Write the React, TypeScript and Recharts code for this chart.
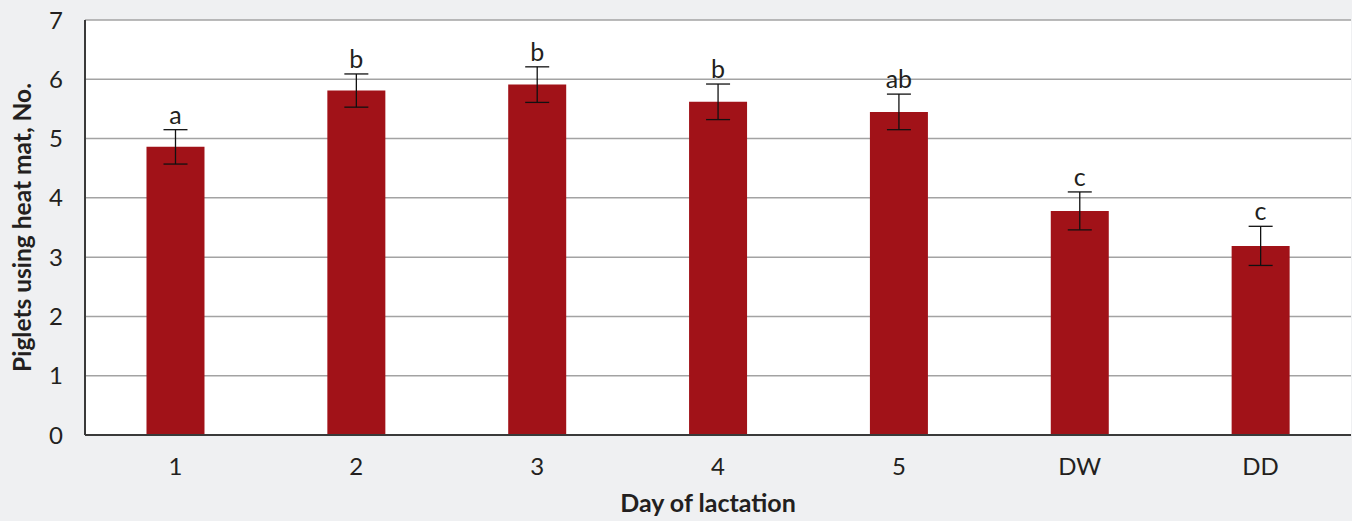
import React from "react";
import {
  ComposedChart,
  Bar,
  Line,
  XAxis,
  YAxis,
  CartesianGrid,
  ErrorBar,
  LabelList,
} from "recharts";

const categories = ["1", "2", "3", "4", "5", "DW", "DD"];
const means = [4.86, 5.81, 5.91, 5.62, 5.45, 3.78, 3.19];
const errors = [0.29, 0.28, 0.3, 0.3, 0.3, 0.32, 0.33];
const letters = ["a", "b", "b", "b", "ab", "c", "c"];
const yTicks = [0, 1, 2, 3, 4, 5, 6, 7];

const data = categories.map((c, i) => ({
  day: c,
  mean: means[i],
  err: errors[i],
  top: means[i] + errors[i],
  letter: letters[i],
}));

const FONT = "Lato, 'Open Sans', sans-serif";
const TEXT = "#231f20";

const YTitle = (props: any) => {
  const vb = props.viewBox || {};
  const cx = 31;
  const cy = vb.y + vb.height / 2;
  return (
    <text
      x={cx}
      y={cy}
      transform={`rotate(-90, ${cx}, ${cy})`}
      textAnchor="middle"
      fontFamily={FONT}
      fontWeight={700}
      fontSize={24.5}
      fill={TEXT}
    >
      Piglets using heat mat, No.
    </text>
  );
};

const XTitle = (props: any) => {
  const vb = props.viewBox || {};
  const cx = vb.x + vb.width / 2 - 10;
  return (
    <text
      x={cx}
      y={512}
      textAnchor="middle"
      fontFamily={FONT}
      fontWeight={700}
      fontSize={25}
      fill={TEXT}
    >
      Day of lactation
    </text>
  );
};

export default function App() {
  return (
    <div
      style={{
        position: "fixed",
        left: 0,
        top: 0,
        width: 1352,
        height: 521,
        background: "#eff0f2",
      }}
    >
      <ComposedChart
        width={1352}
        height={521}
        data={data}
        margin={{ top: 20, right: 1, bottom: 0, left: 0 }}
        barCategoryGap="34%"
      >
        <CartesianGrid
          vertical={false}
          stroke="#a3a3a3"
          strokeWidth={1.5}
          fill="#ffffff"
          yAxisId="left"
        />
        <XAxis
          dataKey="day"
          height={86}
          tickLine={false}
          tickSize={0}
          tickMargin={23}
          axisLine={{ stroke: "#3a3a3a", strokeWidth: 2 }}
          tick={{ fill: TEXT, fontSize: 24, fontFamily: FONT }}
          label={<XTitle />}
        />
        <XAxis
          xAxisId="top"
          dataKey="day"
          orientation="top"
          height={0}
          tick={false}
          tickLine={false}
          axisLine={{ stroke: "#3a3a3a", strokeWidth: 2 }}
        />
        <YAxis
          yAxisId="left"
          domain={[0, 7]}
          ticks={yTicks}
          width={85}
          tickLine={false}
          tickSize={0}
          tickMargin={22}
          interval={0}
          axisLine={{ stroke: "#3a3a3a", strokeWidth: 2 }}
          tick={{ fill: TEXT, fontSize: 24, fontFamily: FONT }}
          label={<YTitle />}
        />
        <YAxis
          yAxisId="right"
          orientation="right"
          domain={[0, 7]}
          width={0}
          tick={false}
          tickLine={false}
          axisLine={{ stroke: "#3a3a3a", strokeWidth: 2 }}
        />
        <Bar
          dataKey="mean"
          yAxisId="left"
          fill="#a11218"
          isAnimationActive={false}
        >
          <ErrorBar
            dataKey="err"
            width={12}
            stroke="#111111"
            strokeWidth={1.3}
            direction="y"
          />
        </Bar>
        <Line
          dataKey="top"
          yAxisId="left"
          stroke="none"
          dot={false}
          activeDot={false}
          isAnimationActive={false}
        >
          <LabelList
            dataKey="letter"
            position="top"
            offset={6}
            fill={TEXT}
            fontSize={25}
            fontFamily={FONT}
          />
        </Line>
      </ComposedChart>
    </div>
  );
}
